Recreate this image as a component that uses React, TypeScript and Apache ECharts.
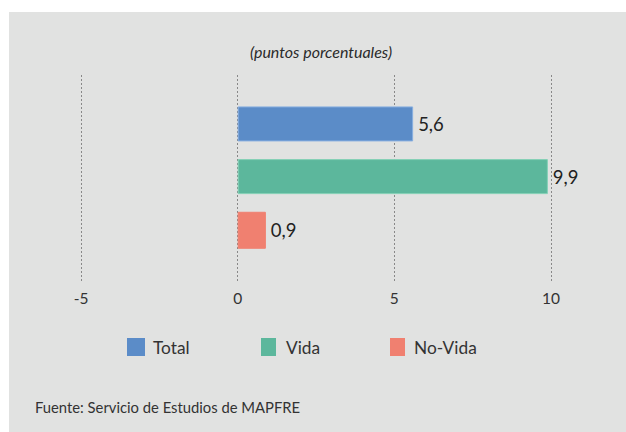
import React, { useEffect, useRef } from "react";
import * as echarts from "echarts";

const categories = ["Total", "Vida", "No-Vida"];
const values = [5.6, 9.9, 0.9];
const colors = ["#5b8cc8", "#5cb79c", "#f08070"];
const borders = ["#86aee0", "#84d0b6", "#f08070"];
const axisTicks = [-5, 0, 5, 10];
const title = "(puntos porcentuales)";
const source = "Fuente: Servicio de Estudios de MAPFRE";

const FONT = "Lato, 'Open Sans', sans-serif";

export default function App() {
  const ref = useRef<HTMLDivElement>(null);
  useEffect(() => {
    if (!ref.current) return;
    const chart = echarts.init(ref.current, null, { renderer: "svg" });
    const xMin = axisTicks[0];
    const xMax = axisTicks[axisTicks.length - 1];
    const series: any[] = categories.map((name, i) => ({
      name,
      type: "bar",
      xAxisIndex: 0,
      yAxisIndex: 0,
      barGap: "-100%",
      barWidth: i === 2 ? 37 : 35,
      itemStyle: { color: colors[i], borderColor: borders[i], borderWidth: 1 },
      label: {
        show: true,
        position: "right",
        distance: 5,
        fontSize: 18.5,
        fontFamily: FONT,
        color: "#222",
        formatter: (p: any) => String(p.value).replace(".", ","),
      },
      data: categories.map((_, j) => (j === i ? values[i] : null)),
    }));
    const legendPos = [
      { left: 127, w: 18, pad: 3 },
      { left: 261, w: 15, pad: 5 },
      { left: 390, w: 15, pad: 4 },
    ];
    chart.setOption({
      animation: false,
      backgroundColor: "#ffffff",
      textStyle: { fontFamily: FONT },
      graphic: [
        {
          type: "rect",
          z: -10,
          silent: true,
          shape: { x: 9, y: 12, width: 617, height: 420 },
          style: { fill: "#e1e2e1" },
        },
        {
          type: "text",
          left: 35,
          top: 399,
          style: { text: source, fontSize: 14.8, fontFamily: FONT, fill: "#333" },
        },
      ],
      title: {
        text: title,
        left: 316,
        textAlign: "center",
        top: 38,
        textStyle: { fontSize: 16, fontStyle: "italic", fontWeight: "normal", color: "#2a2a2a", fontFamily: FONT },
      },
      legend: categories.map((name, i) => ({
        left: legendPos[i].left,
        top: 338,
        padding: 0,
        itemWidth: legendPos[i].w,
        itemHeight: 18,
        icon: "rect",
        itemStyle: { borderWidth: 0, color: colors[i] },
        textStyle: { fontSize: 17.3, color: "#333", fontFamily: FONT, padding: [0, 0, 0, legendPos[i].pad] },
        data: [name],
      })),
      grid: [
        { left: 81, width: 470, top: 98.6, height: 158 },
        { left: 81, width: 470, top: 75, height: 206 },
      ],
      xAxis: [
        { type: "value", gridIndex: 0, min: xMin, max: xMax, interval: 5, show: false },
        {
          type: "value",
          gridIndex: 1,
          min: xMin,
          max: xMax,
          interval: 5,
          axisLine: { show: false },
          axisTick: { show: false },
          axisLabel: { fontSize: 15.5, color: "#333", margin: 9, fontFamily: FONT },
          splitLine: { show: true, lineStyle: { type: [2, 2], color: "#888", width: 1 } },
        },
      ],
      yAxis: [
        { type: "category", gridIndex: 0, data: categories, inverse: true, show: false },
        { type: "category", gridIndex: 1, data: categories, show: false },
      ],
      series,
    });
    return () => chart.dispose();
  }, []);
  return (
    <div
      ref={ref}
      style={{ position: "fixed", left: 0, top: 0, width: 626, height: 432 }}
    />
  );
}
